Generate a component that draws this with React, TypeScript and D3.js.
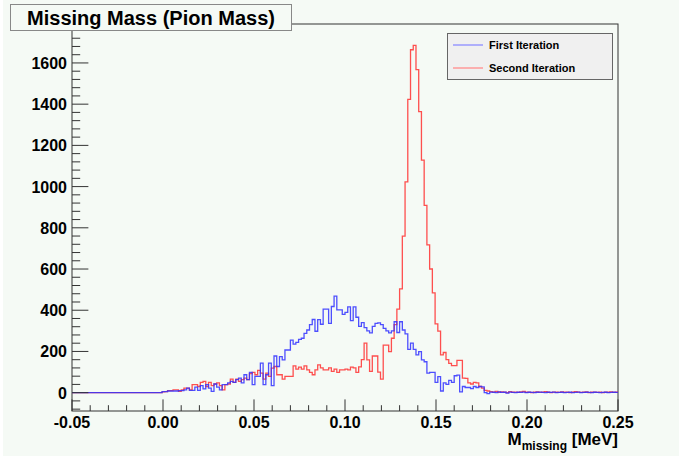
import React from 'react';
import * as d3 from 'd3';

// Histogram binning: 200 bins over [-0.05, 0.25]; bins before FIRST_FILLED are empty.
const X_MIN = -0.05;
const X_MAX = 0.25;
const N_BINS = 200;
const FIRST_FILLED = 33;

// Bin contents from bin 33 (x ≈ 0.0) to bin 199 (x = 0.25)
const firstIteration = [
  5, 5, 8, 8, 8, 8, 10, 10, 14, 22,
  11, 11, 27, 11, 34, 18, 39, 22, 6, 42,
  27, 14, 39, 39, 47, 55, 50, 63, 71, 47,
  87, 63, 98, 39, 79, 79, 143, 39, 87, 143,
  34, 178, 127, 175, 159, 207, 207, 255, 236, 244,
  259, 264, 288, 304, 330, 355, 298, 354, 332, 405,
  405, 336, 418, 468, 402, 402, 380, 390, 416, 350,
  416, 366, 322, 340, 316, 300, 290, 322, 336, 339,
  330, 312, 300, 290, 300, 344, 292, 344, 304, 285,
  210, 240, 210, 183, 199, 159, 150, 95, 98, 98,
  50, 78, 8, 47, 40, 60, 50, 82, 85, 4,
  30, 25, 25, 20, 30, 25, 30, 28, 0, -5,
  3, 2, 0, 4, 1, 2, -2, 3, 1, 0,
  2, 1, 3, 0, 2, 1, 0, 2, 3, 1,
  0, 2, 1, 3, 0, 1, 2, 0, 1, 2,
  0, 1, 3, 0, 1, 2, 1, 0, 2, 1,
  0, 1, 2, 0, 1, 2, 1,
];

const secondIteration = [
  4, 5, 10, 10, 14, 14, 6, 14, 22, 22,
  14, 39, 39, 30, 50, 55, 30, 50, 34, 42,
  47, 34, 14, 39, 42, 66, 50, 66, 55, 63,
  71, 63, 92, 98, 87, 108, 95, 66, 95, 79,
  119, 127, 87, 87, 66, 79, 79, 79, 130, 114,
  124, 114, 130, 111, 98, 87, 111, 135, 120, 111,
  111, 120, 103, 114, 98, 111, 111, 114, 111, 124,
  120, 98, 125, 160, 240, 159, 103, 178, 178, 100,
  66, 231, 231, 199, 264, 330, 405, 504, 760, 1023,
  1423, 1664, 1685, 1568, 1364, 1128, 909, 717, 600, 484,
  334, 299, 183, 195, 160, 142, 131, 131, 157, 157,
  71, 69, 47, 42, 50, 47, 30, 22, 11, 8,
  5, 3, 6, 2, 4, 3, 0, 5, 2, 3,
  1, 4, 6, 2, 3, 0, 2, 4, 1, 3,
  5, 2, 0, 3, 2, 1, 4, 2, 3, 0,
  2, 5, 3, 1, 2, 4, 0, 2, 3, 1,
  2, 0, 3, 2, 4, 1, 2,
];

const seriesNames = ['First Iteration', 'Second Iteration'];
const seriesColors = ['#3030ff', '#ff3030'];
const legendColors = ['#9a9aff', '#ff9a9a'];

const xTicks = [-0.05, 0, 0.05, 0.1, 0.15, 0.2, 0.25];
const xTickLabels = ['-0.05', '0.00', '0.05', '0.10', '0.15', '0.20', '0.25'];
const yTicks = [0, 200, 400, 600, 800, 1000, 1200, 1400, 1600];
const yDomain = [-89, 1789];

const W = 679;
const H = 456;
const frame = { left: 72, right: 618, top: 24, bottom: 411 };
const FONT = "'Liberation Sans', Arial, Helvetica, sans-serif";
const BG = '#f5faf5';

function fullBins(filled: number[]): number[] {
  const out: number[] = new Array(N_BINS).fill(0);
  filled.forEach((v, i) => {
    out[FIRST_FILLED + i] = v;
  });
  return out;
}

export default function App() {
  const x = d3.scaleLinear().domain([X_MIN, X_MAX]).range([frame.left, frame.right]);
  const y = d3.scaleLinear().domain(yDomain).range([frame.bottom, frame.top]);
  const binW = (X_MAX - X_MIN) / N_BINS;

  const stepPath = (vals: number[]) => {
    const pts: [number, number][] = vals.map((v, i) => [X_MIN + i * binW, v]);
    pts.push([X_MAX, vals[vals.length - 1]]);
    const line = d3
      .line<[number, number]>()
      .x((d) => x(d[0]))
      .y((d) => y(d[1]))
      .curve(d3.curveStepAfter);
    return line(pts) || '';
  };

  // second iteration underneath, first iteration on top
  const series = [fullBins(secondIteration), fullBins(firstIteration)];
  const seriesColorDrawn = [seriesColors[1], seriesColors[0]];

  const xMinor = d3.range(-0.05, 0.2501, 0.01);
  const yMinor = d3.range(-80, 1789, 40);
  const xMajorLen = 0.03 * (frame.bottom - frame.top);
  const yMajorLen = 0.03 * (frame.right - frame.left);

  return (
    <svg
      width={W}
      height={H}
      style={{ position: 'absolute', left: 0, top: 0, display: 'block' }}
      fontFamily={FONT}
    >
      <rect x={0} y={0} width={W} height={H} fill={BG} />
      <rect x={0} y={0} width={3} height={H} fill="#ffffff" />

      {/* frame */}
      <rect
        x={frame.left}
        y={frame.top}
        width={frame.right - frame.left}
        height={frame.bottom - frame.top}
        fill="none"
        stroke="#333"
        strokeWidth={1}
      />

      {/* histograms */}
      {series.map((vals, i) => (
        <path
          key={i}
          d={stepPath(vals)}
          fill="none"
          stroke={seriesColorDrawn[i]}
          strokeWidth={1.3}
          strokeOpacity={0.85}
        />
      ))}

      {/* x axis ticks */}
      {xMinor.map((t, i) => {
        const isMajor = i % 5 === 0;
        const len = isMajor ? xMajorLen : xMajorLen / 2;
        return (
          <line
            key={'xm' + i}
            x1={x(t)}
            x2={x(t)}
            y1={frame.bottom}
            y2={frame.bottom - len}
            stroke="#333"
            strokeWidth={1}
          />
        );
      })}
      {xTicks.map((t, i) => (
        <text
          key={'xl' + i}
          x={x(t)}
          y={428}
          textAnchor="middle"
          fontSize={16}
          fontWeight="bold"
          fill="#000"
        >
          {xTickLabels[i]}
        </text>
      ))}

      {/* y axis ticks */}
      {yMinor.map((t, i) => {
        const isMajor = t % 200 === 0;
        const len = isMajor ? yMajorLen : yMajorLen / 2;
        const yy = y(t);
        if (yy < frame.top || yy > frame.bottom) return null;
        return (
          <line
            key={'ym' + i}
            x1={frame.left}
            x2={frame.left + len}
            y1={yy}
            y2={yy}
            stroke="#333"
            strokeWidth={1}
          />
        );
      })}
      {yTicks.map((t) => (
        <text
          key={'yl' + t}
          x={67}
          y={y(t) + 6}
          textAnchor="end"
          fontSize={16}
          fontWeight="bold"
          fill="#000"
        >
          {t}
        </text>
      ))}

      {/* axis title */}
      <text x={frame.right} y={445} textAnchor="end" fontWeight="bold" fill="#000" fontSize={17}>
        M
        <tspan fontSize={12} dy={5}>
          missing
        </tspan>
        <tspan dy={-5}> [MeV]</tspan>
      </text>

      {/* title box */}
      <rect x={10.5} y={4.5} width={281} height={26} fill={BG} stroke="#888" strokeWidth={1} />
      <text x={151} y={24.5} textAnchor="middle" fontSize={20} fontWeight="bold" fill="#000">
        Missing Mass (Pion Mass)
      </text>

      {/* legend */}
      <rect x={447.5} y={33.5} width={165} height={46} fill="#f0f0f0" stroke="#666" strokeWidth={1} />
      {seriesNames.map((name, i) => (
        <g key={name}>
          <line
            x1={453}
            x2={483}
            y1={45 + i * 23}
            y2={45 + i * 23}
            stroke={legendColors[i]}
            strokeWidth={1.5}
          />
          <text x={489} y={45 + i * 23 + 4} fontSize={11} fontWeight="bold" fill="#000">
            {name}
          </text>
        </g>
      ))}
    </svg>
  );
}
